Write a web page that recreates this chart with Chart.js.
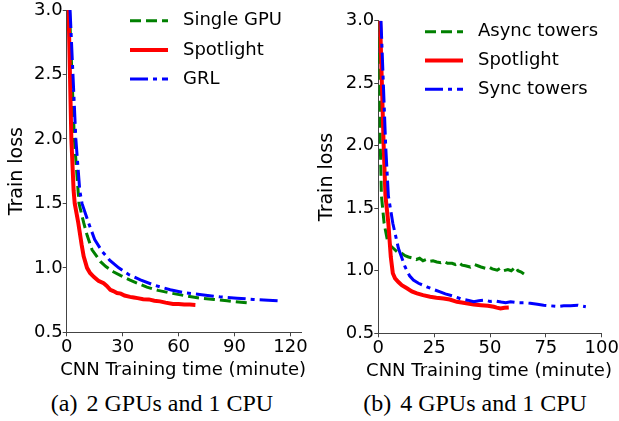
<!DOCTYPE html>
<html>
<head>
<meta charset="utf-8">
<script src="https://cdn.jsdelivr.net/npm/chart.js@4/dist/chart.umd.min.js"></script>
<style>
  html, body { margin: 0; padding: 0; background: #fff; }
  #wrap { position: relative; width: 619px; height: 421px; overflow: hidden; }
  canvas { position: absolute; top: 0; }
  .cap {
    position: absolute; width: 300px; text-align: center;
    font-family: "Liberation Serif", serif; font-size: 24px; color: #000;
    line-height: 26px;
  }
  .cap span { margin-right: 9px; }
</style>
</head>
<body>
<div id="wrap">
  <canvas id="chartA" width="310" height="385" style="left:0"></canvas>
  <canvas id="chartB" width="309" height="385" style="left:310px"></canvas>
  <div class="cap" style="left:12px;top:390px"><span>(a)</span>2 GPUs and 1 CPU</div>
  <div class="cap" style="left:325px;top:390px"><span>(b)</span>4 GPUs and 1 CPU</div>
</div>
<script>
// ---- data ----
const yTicks = [0.5, 1.0, 1.5, 2.0, 2.5, 3.0];
const xTicksA = [0, 30, 60, 90, 120];
const xTicksB = [0, 25, 50, 75, 100];
const xTitle = "CNN Training time (minute)";
const yTitle = "Train loss";

// (a) 2 GPUs and 1 CPU
const singleGpuTime = [1.5, 4.1, 6.6, 9.1, 11, 13.6, 18, 21, 25, 29, 34, 38, 43, 49, 55.5, 63, 71.6, 79, 86, 92, 97.5];
const singleGpuLoss = [3.0, 2.0, 1.5, 1.35, 1.25, 1.14, 1.05, 1.01, 0.97, 0.94, 0.905, 0.88, 0.85, 0.825, 0.805, 0.785, 0.765, 0.755, 0.745, 0.735, 0.727];
const spotAtime = [1.0, 2.5, 3.7, 4.3, 6.2, 8, 9.1, 10.9, 12.5, 14.5, 17, 19.8, 21.5, 23.4, 25, 27, 29, 31, 34, 36, 38, 41, 44, 47, 50, 53, 57, 60, 63, 66, 69];
const spotAloss = [3.0, 2.0, 1.6, 1.5, 1.35, 1.18, 1.09, 1.0, 0.96, 0.93, 0.9, 0.88, 0.86, 0.83, 0.82, 0.805, 0.8, 0.785, 0.775, 0.77, 0.765, 0.757, 0.755, 0.745, 0.74, 0.73, 0.72, 0.72, 0.715, 0.715, 0.712];
const grlTime = [1.8, 4.9, 7, 8.2, 11.8, 15, 19, 23, 27.9, 33, 39.5, 47, 55.5, 64, 73.4, 82, 91.3, 100, 108, 115.4];
const grlLoss = [3.0, 2.0, 1.6, 1.5, 1.346, 1.22, 1.127, 1.06, 1.0, 0.95, 0.907, 0.865, 0.83, 0.805, 0.79, 0.775, 0.765, 0.755, 0.748, 0.742];

// (b) 4 GPUs and 1 CPU
const asyncTime = [0.3, 0.9, 1.4, 2.6, 4, 5.5, 6.7, 8.5, 10.5, 12, 13.5, 15.7, 17, 18.5, 20, 21.5, 23, 24.5, 26.2, 28, 29.5, 31, 33, 34.5, 36, 37.5, 39, 41.2, 43, 44.5, 46, 48, 49.5, 51, 53.2, 54.5, 56, 58, 59.5, 61.4, 62.5, 64, 65.2];
const asyncLoss = [3.0, 2.0, 1.6, 1.38, 1.25, 1.2, 1.18, 1.15, 1.14, 1.12, 1.11, 1.1, 1.09, 1.1, 1.08, 1.09, 1.075, 1.08, 1.07, 1.065, 1.075, 1.06, 1.06, 1.05, 1.065, 1.045, 1.04, 1.03, 1.05, 1.04, 1.03, 1.02, 1.03, 1.015, 1.005, 1.02, 1.0, 1.01, 1.0, 1.03, 1.0, 0.99, 0.975];
const spotBtime = [0.8, 2.4, 3.2, 4.5, 5.6, 6.5, 7.5, 9, 10.5, 12.8, 15, 17.3, 20, 23.2, 26, 29.2, 32, 35.2, 38, 42.7, 46, 49, 51.7, 53, 54.7, 56.5, 58.4];
const spotBloss = [3.0, 2.0, 1.6, 1.38, 1.11, 0.98, 0.94, 0.91, 0.885, 0.86, 0.835, 0.82, 0.805, 0.792, 0.785, 0.779, 0.77, 0.752, 0.745, 0.731, 0.725, 0.72, 0.712, 0.705, 0.699, 0.705, 0.707];
const syncTime = [1.2, 3.3, 4.5, 6.5, 9, 12, 14, 15.7, 18, 21.7, 24, 27.7, 30, 33, 35.2, 37, 40, 42.7, 45, 47.7, 50, 52, 55, 57, 59.2, 62, 65, 68, 71.2, 74, 77, 80.2, 83, 86, 89.2, 91, 92.9];
const syncLoss = [3.0, 2.0, 1.6, 1.38, 1.18, 1.03, 0.96, 0.926, 0.9, 0.872, 0.855, 0.832, 0.815, 0.8, 0.787, 0.775, 0.765, 0.752, 0.76, 0.765, 0.755, 0.76, 0.75, 0.745, 0.752, 0.745, 0.745, 0.74, 0.733, 0.725, 0.72, 0.715, 0.72, 0.72, 0.725, 0.718, 0.712];

Chart.defaults.font.family = '"DejaVu Sans", sans-serif';
Chart.defaults.font.size = 18;
Chart.defaults.color = "#000";

function pts(t, l) {
  return t.map((x, i) => ({ x: x, y: l[i] }));
}

// green dashed / red solid / blue dash-dot, like the matplotlib originals
function green(label, t, l) {
  return { label, data: pts(t, l), borderColor: "#008000", borderWidth: 3, borderDash: [11, 5], order: 3 };
}
function red(label, t, l) {
  return { label, data: pts(t, l), borderColor: "#ff0000", borderWidth: 4, order: 2 };
}
function blue(label, t, l) {
  return { label, data: pts(t, l), borderColor: "#0000ff", borderWidth: 3, borderDash: [18, 5, 4, 5], order: 1 };
}

// legend inside the plot + x title (chart.js squeezes a title wider than the axis)
const lineLegend = {
  id: "lineLegend",
  afterDraw(chart, args, opts) {
    const ctx = chart.ctx;
    const area = chart.chartArea;
    ctx.save();
    ctx.fillStyle = "#000";
    ctx.font = '18px "DejaVu Sans"';
    ctx.textBaseline = "middle";
    chart.data.datasets.forEach((ds, i) => {
      const y = opts.y + i * opts.gap;
      ctx.beginPath();
      ctx.setLineDash(ds.borderDash || []);
      ctx.lineWidth = ds.borderWidth;
      ctx.strokeStyle = ds.borderColor;
      ctx.moveTo(opts.x, y);
      ctx.lineTo(opts.x + 38, y);
      ctx.stroke();
      ctx.setLineDash([]);
      ctx.fillText(ds.label, opts.x + 53, y);
    });
    ctx.textAlign = "center";
    ctx.fillText(xTitle, (area.left + area.right) / 2 - 1, opts.titleY);
    ctx.restore();
  }
};

function makeChart(id, datasets, xTicks, xMax, box, legendPos) {
  const h = 385;
  return new Chart(document.getElementById(id), {
    type: "line",
    data: { datasets },
    plugins: [lineLegend],
    options: {
      responsive: false,
      animation: false,
      layout: { padding: { left: 0, top: box.top, right: box.right, bottom: 0 } },
      elements: { point: { radius: 0 }, line: { tension: 0, fill: false } },
      plugins: {
        legend: { display: false },
        tooltip: { enabled: false },
        lineLegend: legendPos
      },
      scales: {
        x: {
          type: "linear",
          min: 0,
          max: xMax,
          afterBuildTicks: (ax) => { ax.ticks = xTicks.map(v => ({ value: v })); },
          afterFit: (ax) => { ax.height = h - box.bottom; ax.paddingLeft = 0; ax.paddingRight = 0; },
          ticks: { padding: 0, callback: (v) => String(v) },
          grid: { display: true, drawOnChartArea: false, drawTicks: true, tickLength: 4, color: "#444" },
          border: { display: true, color: "#444", width: 1 }
        },
        y: {
          min: 0.5,
          max: 3.0,
          afterBuildTicks: (ax) => { ax.ticks = yTicks.map(v => ({ value: v })); },
          afterFit: (ax) => { ax.width = box.left; ax.paddingTop = 0; ax.paddingBottom = 0; },
          ticks: { padding: 0, callback: (v) => v.toFixed(1) },
          grid: { display: true, drawOnChartArea: false, drawTicks: true, tickLength: 4, color: "#444" },
          border: { display: true, color: "#444", width: 1 },
          title: { display: true, text: yTitle, font: { size: 19 }, padding: { top: 6, bottom: 0 } }
        }
      }
    }
  });
}

makeChart("chartA", [
  green("Single GPU", singleGpuTime, singleGpuLoss),
  red("Spotlight", spotAtime, spotAloss),
  blue("GRL", grlTime, grlLoss)
], xTicksA, 126, { left: 66.7, top: 10, right: 8.3, bottom: 332.3 },
  { x: 130, y: 20.7, gap: 29.2, titleY: 370 });

makeChart("chartB", [
  green("Async towers", asyncTime, asyncLoss),
  red("Spotlight", spotBtime, spotBloss),
  blue("Sync towers", syncTime, syncLoss)
], xTicksB, 100, { left: 68.3, top: 20.7, right: 17.3, bottom: 333.3 },
  { x: 115, y: 31.7, gap: 28.8, titleY: 371.5 });
</script>
</body>
</html>
